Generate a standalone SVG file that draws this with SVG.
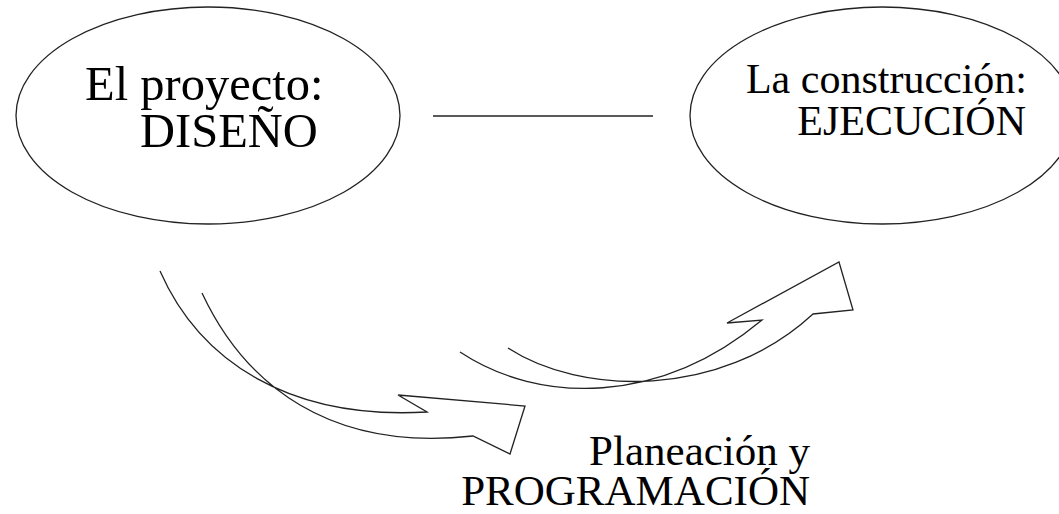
<svg xmlns="http://www.w3.org/2000/svg" width="1059" height="514" viewBox="0 0 1059 514">
<style>
.shape{fill:none;stroke:#222;stroke-width:1.3;stroke-linejoin:miter}
.t{font-family:"Liberation Serif","Times New Roman",serif;fill:#000}
</style>
<rect width="1059" height="514" fill="#fff"/>
<g id="node-diseno">
<ellipse class="shape" cx="208" cy="115.5" rx="192" ry="108.5"/>
<text class="t" x="85" y="100" font-size="48.5">El proyecto:</text>
<text class="t" x="140" y="147" font-size="48.5">DISEÑO</text>
</g>
<g id="node-ejecucion">
<ellipse class="shape" cx="882" cy="115.5" rx="192" ry="108.5"/>
<text class="t" x="1027" y="93" font-size="42" text-anchor="end">La construcción:</text>
<text class="t" x="1026" y="135" font-size="42" text-anchor="end">EJECUCIÓN</text>
</g>
<g id="node-planeacion">
<text class="t" x="810" y="465" font-size="43" text-anchor="end">Planeación y</text>
<text class="t" x="810" y="505" font-size="43" text-anchor="end">PROGRAMACIÓN</text>
</g>
<g id="connectors">
<line class="shape" x1="433" y1="116" x2="653" y2="116"/>
<path class="shape" d="M160,271 C200,362 290,420 427,412 L398,395 L525,406 L510,454 L473,436 C330,452 245,385 202,293"/>
<path class="shape" d="M460,352 C540,405 660,405 762,320 L727,323 L839,262 L853,310 L813,314 C720,400 580,395 508,348"/>
</g>
</svg>
